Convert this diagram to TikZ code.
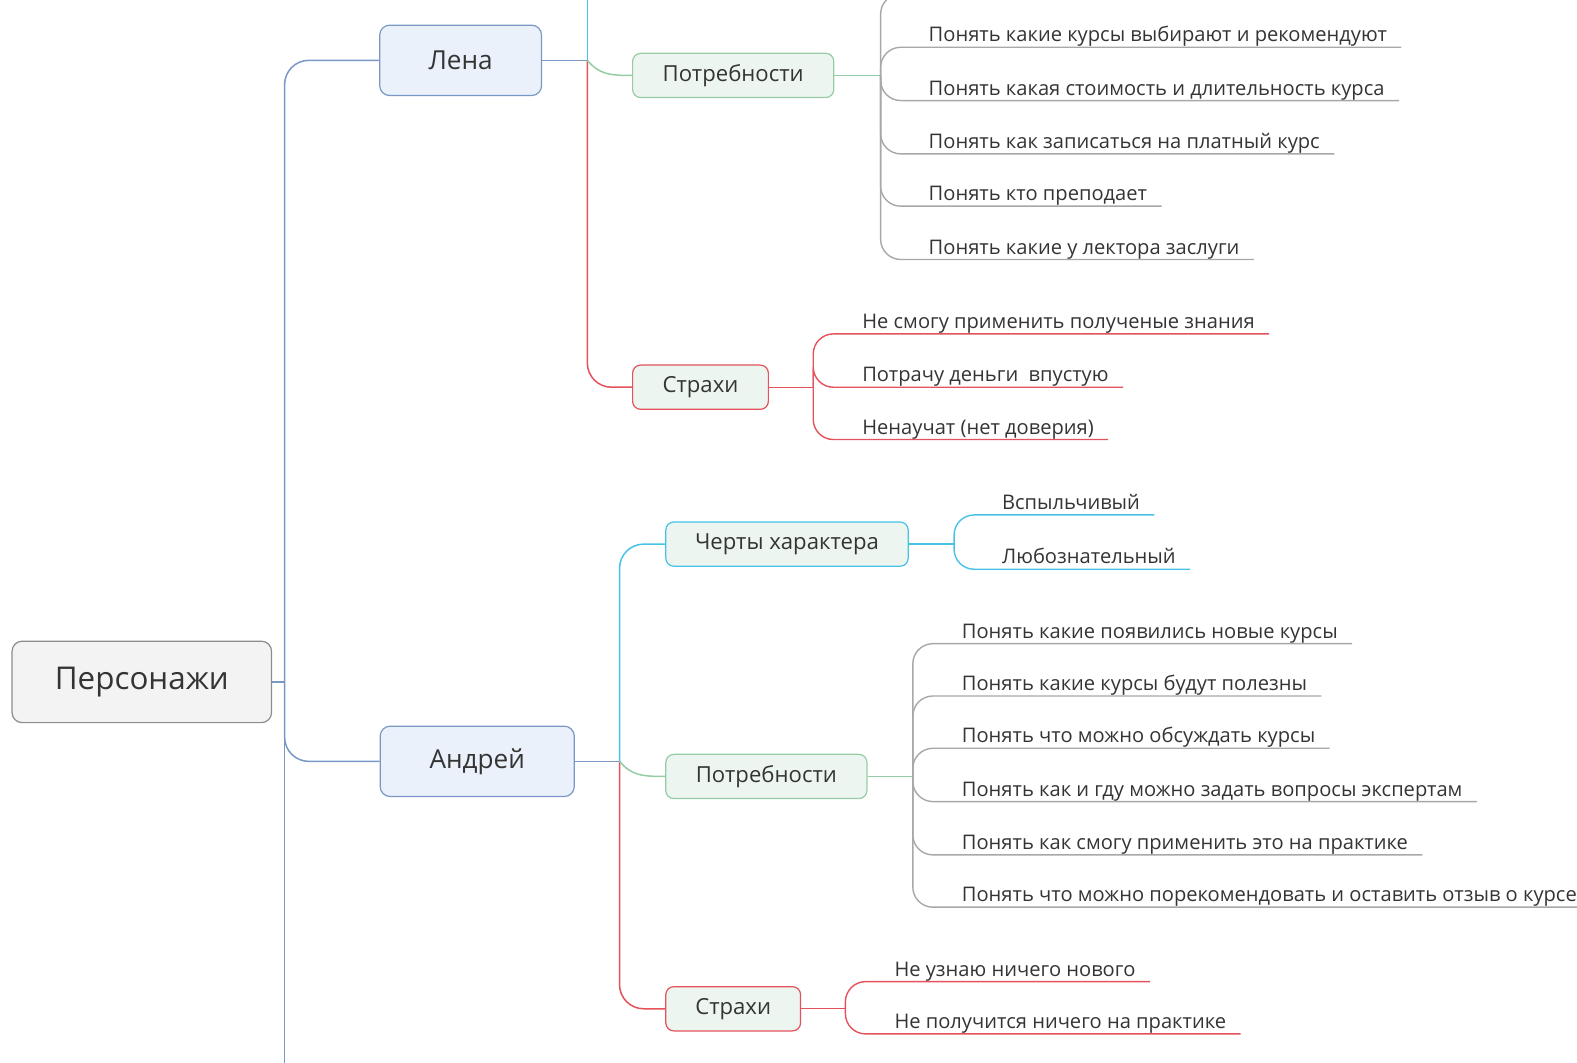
\documentclass[tikz,border=0pt]{standalone}
\usepackage{fontspec}
\setmainfont{Open Sans}
\usepackage{tikz}
\usetikzlibrary{positioning,calc}
\definecolor{inktext}{RGB}{52,52,52}
\definecolor{trunkblue}{RGB}{122,152,198}
\definecolor{topicfill}{RGB}{234,241,250}
\definecolor{rootfill}{RGB}{243,243,243}
\definecolor{rootline}{RGB}{140,140,140}
\definecolor{subfill}{RGB}{237,245,240}
\definecolor{fearred}{RGB}{228,82,92}
\definecolor{traitcyan}{RGB}{72,194,230}
\definecolor{needgreen}{RGB}{150,204,165}
\definecolor{leafgray}{RGB}{168,168,168}
\tikzset{
  rootbox/.style={draw=rootline,fill=rootfill,rounded corners=5pt,line width=0.6pt,
    minimum width=129pt,minimum height=40.5pt,text=inktext,
    font=\fontsize{15.6}{18}\selectfont},
  topicbox/.style={draw=trunkblue,fill=topicfill,rounded corners=5pt,line width=0.6pt,
    minimum height=35pt,text=inktext,font=\fontsize{13}{16}\selectfont},
  subbox/.style={fill=subfill,rounded corners=4pt,line width=0.6pt,
    minimum height=22pt,text=inktext,font=\fontsize{11}{13}\selectfont},
  leaf/.style={anchor=south west,inner xsep=0pt,inner ysep=2.5pt,text depth=0pt,
    text=inktext,font=\fontsize{10}{12}\selectfont},
  trunk/.style={draw=trunkblue,line width=0.75pt,rounded corners=12pt},
  twig/.style={line width=0.7pt,rounded corners=10pt}
}

\begin{document}
\begin{tikzpicture}[
  x=0.5pt,y=-0.5pt,
  needs/.style={subbox,draw=needgreen,minimum width=100pt},
  fears/.style={subbox,draw=fearred},
  traits/.style={subbox,draw=traitcyan,minimum width=120.5pt}
]
\useasboundingbox (0,0) rectangle (1568,1056);

% центр и персонажи
\node[rootbox] (root) at (141,678) {Персонажи};
\node[topicbox,minimum width=80.5pt] (lena) at (458,60) {Лена};
\node[topicbox,minimum width=96.5pt] (andrey) at (474.5,757) {Андрей};

\draw[trunk] (root.east) -- (283,678) coordinate (tr);
\draw[trunk] (tr) |- (lena.west);
\draw[trunk] (tr) |- (andrey.west);
\coordinate (trend) at (283,1060);
\draw[trunk] (tr) -- (trend);

% Лена
\node[needs] (needsL) at (729,75) {Потребности};
\node[fears,minimum width=67.5pt] (fearsL) at (696.5,385) {Страхи};

\draw[trunk] (lena.east) -- (584,60) coordinate (lj);
\coordinate (ltop) at (584,-4);
\draw[trunk,draw=traitcyan] (lj) -- (ltop);
\draw[trunk,draw=fearred] (lj) |- (fearsL.west);
\draw[line width=0.75pt,draw=needgreen] (lj)
  .. controls (596,74) and (606,75) .. (needsL.west);

\node[leaf] (nl1) at (923,47) {Понять какие курсы выбирают и рекомендуют};
\node[leaf] (nl2) at (923,100) {Понять какая стоимость и длительность курса};
\node[leaf] (nl3) at (923,153) {Понять как записаться на платный курс};
\node[leaf] (nl4) at (923,205) {Понять кто преподает};
\node[leaf] (nl5) at (923,258) {Понять какие у лектора заслуги};

\draw[twig,draw=needgreen] (needsL.east) -- ++(46,0) coordinate (nlj);
\coordinate (nltop) at (905,-6);
\draw[twig,draw=leafgray] (nlj) |- (nltop);
\draw[twig,draw=leafgray] (nlj) |- (nl1.south west) -- ([xshift=7pt]nl1.south east);
\draw[twig,draw=leafgray] (nlj) |- (nl2.south west) -- ([xshift=7pt]nl2.south east);
\draw[twig,draw=leafgray] (nlj) |- (nl3.south west) -- ([xshift=7pt]nl3.south east);
\draw[twig,draw=leafgray] (nlj) |- (nl4.south west) -- ([xshift=7pt]nl4.south east);
\draw[twig,draw=leafgray] (nlj) |- (nl5.south west) -- ([xshift=7pt]nl5.south east);

\node[leaf] (fl1) at (857,332) {Не смогу применить полученые знания};
\node[leaf] (fl2) at (857,385) {Потрачу деньги\ \ впустую};
\node[leaf] (fl3) at (857,437) {Ненаучат (нет доверия)};

\draw[twig,draw=fearred] (fearsL.east) -- ++(44,0) coordinate (flj);
\draw[twig,draw=fearred] (flj) |- (fl1.south west) -- ([xshift=7pt]fl1.south east);
\draw[twig,draw=fearred] (flj) |- (fl2.south west) -- ([xshift=7pt]fl2.south east);
\draw[twig,draw=fearred] (flj) |- (fl3.south west) -- ([xshift=7pt]fl3.south east);

% Андрей
\node[traits] (traitsA) at (782.5,541) {Черты характера};
\node[needs] (needsA) at (762,772) {Потребности};
\node[fears,minimum width=67pt] (fearsA) at (729,1003) {Страхи};

\draw[trunk] (andrey.east) -- (616,757) coordinate (aj);
\draw[trunk,draw=traitcyan] (aj) |- (traitsA.west);
\draw[trunk,draw=fearred] (aj) |- (fearsA.west);
\draw[line width=0.75pt,draw=needgreen] (aj)
  .. controls (628,771) and (638,772) .. (needsA.west);

\node[leaf] (ta1) at (996,512) {Вспыльчивый};
\node[leaf] (ta2) at (996,566) {Любознательный};

\draw[twig,draw=traitcyan] (traitsA.east) -- ++(45,0) coordinate (taj);
\draw[twig,draw=traitcyan] (taj) |- (ta1.south west) -- ([xshift=7pt]ta1.south east);
\draw[twig,draw=traitcyan] (taj) |- (ta2.south west) -- ([xshift=7pt]ta2.south east);

\node[leaf] (na1) at (956,640) {Понять какие появились новые курсы};
\node[leaf] (na2) at (956,692) {Понять какие курсы будут полезны};
\node[leaf] (na3) at (956,744) {Понять что можно обсуждать курсы};
\node[leaf] (na4) at (956,797) {Понять как и гду можно задать вопросы экспертам};
\node[leaf] (na5) at (956,850) {Понять как смогу применить это на практике};
\node[leaf] (na6) at (956,902) {Понять что можно порекомендовать и оставить отзыв о курсе};

\draw[twig,draw=needgreen] (needsA.east) -- ++(45,0) coordinate (naj);
\draw[twig,draw=leafgray] (naj) |- (na1.south west) -- ([xshift=7pt]na1.south east);
\draw[twig,draw=leafgray] (naj) |- (na2.south west) -- ([xshift=7pt]na2.south east);
\draw[twig,draw=leafgray] (naj) |- (na3.south west) -- ([xshift=7pt]na3.south east);
\draw[twig,draw=leafgray] (naj) |- (na4.south west) -- ([xshift=7pt]na4.south east);
\draw[twig,draw=leafgray] (naj) |- (na5.south west) -- ([xshift=7pt]na5.south east);
\draw[twig,draw=leafgray] (naj) |- (na6.south west) -- ([xshift=7pt]na6.south east);

\node[leaf] (fa1) at (889,976) {Не узнаю ничего нового};
\node[leaf] (fa2) at (889,1028) {Не получится ничего на практике};

\draw[twig,draw=fearred] (fearsA.east) -- ++(44,0) coordinate (faj);
\draw[twig,draw=fearred] (faj) |- (fa1.south west) -- ([xshift=7pt]fa1.south east);
\draw[twig,draw=fearred] (faj) |- (fa2.south west) -- ([xshift=7pt]fa2.south east);

\end{tikzpicture}
\end{document}
